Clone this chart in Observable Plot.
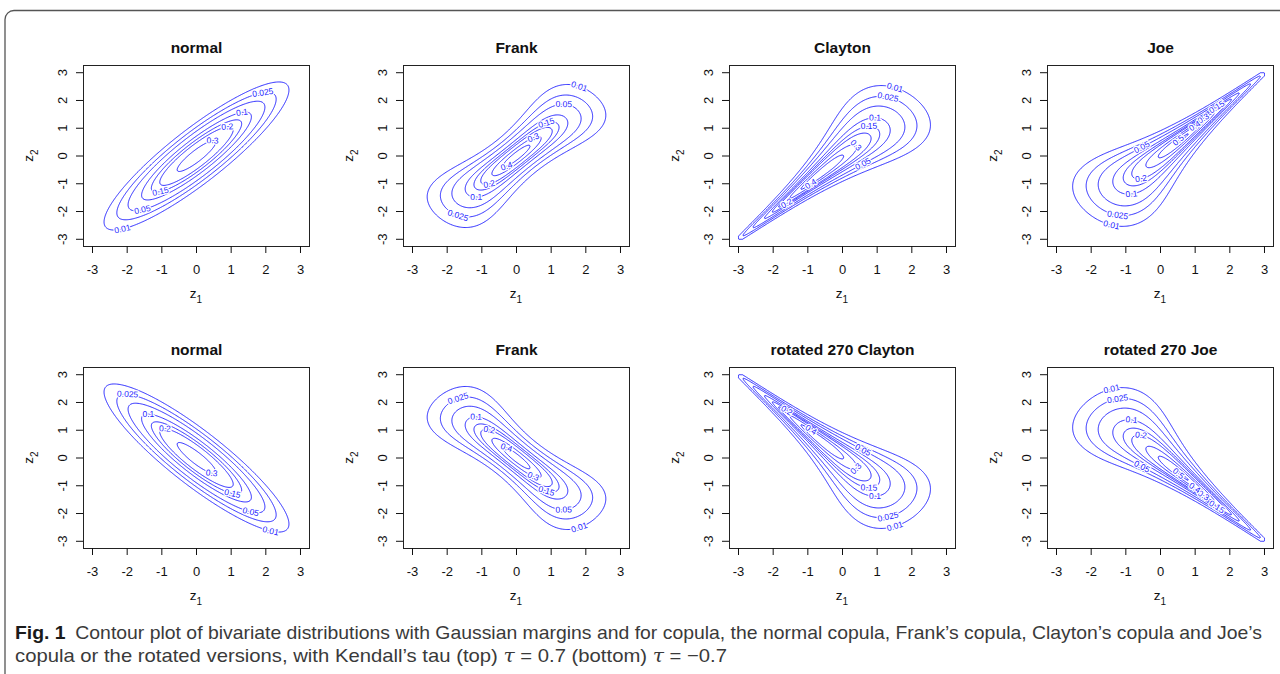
<!DOCTYPE html>
<html><head><meta charset="utf-8">
<script src="https://cdn.jsdelivr.net/npm/d3@7"></script>
<script src="https://cdn.jsdelivr.net/npm/@observablehq/plot@0.6"></script>
<style>
html,body{margin:0;padding:0;background:#fff;overflow:hidden;}
#root{position:relative;width:1280px;height:674px;font-family:"Liberation Sans",Arial,sans-serif;overflow:hidden;}
.panel{position:absolute;}
#deco{position:absolute;left:0;top:0;}
</style></head><body><div id="root"></div>
<script>
// ---------- data ----------
const titles = ["normal", "Frank", "Clayton", "Joe", "normal", "Frank", "rotated 270 Clayton", "rotated 270 Joe"];
const families = ["normal", "frank", "clayton", "joe", "normal", "frank", "clayton", "joe"];
const rotations = [0, 0, 0, 0, 0, 0, 270, 270];
const kendallTau = [0.7, 0.7, 0.7, 0.7, -0.7, -0.7, -0.7, -0.7];
// copula parameters corresponding to Kendall's tau = ±0.7
const params = [0.891, 11.41, 4.667, 5.46, -0.891, -11.41, 4.667, 5.46];
const levels = [0.01, 0.025, 0.05, 0.1, 0.15, 0.2, 0.3, 0.4, 0.5];
const ticks = [-3, -2, -1, 0, 1, 2, 3];
const tickLabels = ["-3", "-2", "-1", "0", "1", "2", "3"];
const gridRange = [-3, 3];
// contour-label placement hints: ray origin, ray directions (deg) and which ray each level uses
const labelHints = [
  {c: [0, 0], A: 50, B: 231, pat: "BABABAABA"},
  {c: [0, 0], A: 54, B: 232, pat: "ABABABABA"},
  {c: [0.3, 0.2], A: 62, B: 302, C: 225, pat: "AABAACACC"},
  {c: [-0.3, -0.3], A: 111, B: 243, C: 47, pat: "BBABCBCCC"},
  {c: [0, 0], A: 131, B: 309, pat: "BABABABAB"},
  {c: [0, 0], A: 306, B: 128, pat: "ABABABABA"},
  {c: [0.3, -0.2], A: 298, B: 58, C: 135, pat: "AABAACACC"},
  {c: [-0.3, 0.3], A: 249, B: 117, C: 313, pat: "BBABCBCCC"}
];
const captionLine1 = "Contour plot of bivariate distributions with Gaussian margins and for copula, the normal copula, Frank\u2019s copula, Clayton\u2019s copula and Joe\u2019s";
const captionLine2a = "copula or the rotated versions, with Kendall\u2019s tau (top) ";
const captionLine2b = " (bottom) ";

// ---------- layout ----------
const frameLefts = [83, 403, 729, 1047];
const frameTops = [64.5, 366.5];
const FW = 226, FH = 181, ML = 80, MT = 60, MR = 10, MB = 65;
const DOM = [-3.26, 3.26];
const kx = FW / (DOM[1] - DOM[0]), ky = FH / (DOM[1] - DOM[0]);
const LINE = "#2424ff";
const FONT = "'Liberation Sans',Arial,sans-serif";

// ---------- density ----------
function erfc(x) {
  const z = Math.abs(x), t = 1 / (1 + 0.5 * z);
  const r = t * Math.exp(-z * z - 1.26551223 + t * (1.00002368 + t * (0.37409196 + t * (0.09678418 + t * (-0.18628806 + t * (0.27886807 + t * (-1.13520398 + t * (1.48851587 + t * (-0.82215223 + t * 0.17087277)))))))));
  return x >= 0 ? r : 2 - r;
}
const Phi = z => 0.5 * erfc(-z / Math.SQRT2);
const phi = z => Math.exp(-z * z / 2) / Math.sqrt(2 * Math.PI);
function density(family, rot, par, z1, z2) {
  const u = Phi(z1), ub = Phi(-z1);
  let v = Phi(z2), vb = Phi(-z2);
  if (rot === 270) { const t = v; v = vb; vb = t; }
  let c;
  if (family === "normal") {
    const q = 1 - par * par;
    return Math.exp(-(z1 * z1 - 2 * par * z1 * z2 + z2 * z2) / (2 * q)) / (2 * Math.PI * Math.sqrt(q));
  } else if (family === "frank") {
    const t = par, e = 1 - Math.exp(-t);
    const d = e - (1 - Math.exp(-t * u)) * (1 - Math.exp(-t * v));
    c = t * e * Math.exp(-t * (u + v)) / (d * d);
  } else if (family === "clayton") {
    const t = par;
    c = (1 + t) * Math.pow(u * v, -1 - t) * Math.pow(Math.pow(u, -t) + Math.pow(v, -t) - 1, -1 / t - 2);
  } else {
    const t = par, a = Math.pow(ub, t), b = Math.pow(vb, t), A = a + b - a * b;
    c = Math.pow(A, 1 / t - 2) * Math.pow(ub, t - 1) * Math.pow(vb, t - 1) * (t - 1 + A);
  }
  return c * phi(z1) * phi(z2);
}

const root = document.getElementById("root");

// decorations: border + caption
const deco = d3.select(root).append("svg").attr("id", "deco").attr("width", 1280).attr("height", 674);
deco.append("rect").attr("x", 5).attr("y", 10.5).attr("width", 1320).attr("height", 720).attr("rx", 9)
  .attr("fill", "none").attr("stroke", "#555").attr("stroke-width", 1.3);
const capFont = "'Liberation Sans',Arial,sans-serif";
const t1 = deco.append("text").attr("x", 15).attr("y", 638.5).attr("font-family", capFont).attr("font-size", 19)
  .attr("fill", "#3a3a3a").attr("textLength", 1247).attr("lengthAdjust", "spacingAndGlyphs");
t1.append("tspan").attr("font-weight", "bold").attr("fill", "#1a1a1a").text("Fig. 1");
t1.append("tspan").text("\u2002" + captionLine1);
const t2 = deco.append("text").attr("x", 15).attr("y", 661.5).attr("font-family", capFont).attr("font-size", 19)
  .attr("fill", "#3a3a3a").attr("textLength", 712).attr("lengthAdjust", "spacingAndGlyphs");
t2.append("tspan").text(captionLine2a);
t2.append("tspan").attr("font-style", "italic").attr("font-family", "'DejaVu Serif',serif").text("\u03c4");
t2.append("tspan").text(" = " + kendallTau[0]);
t2.append("tspan").text(captionLine2b);
t2.append("tspan").attr("font-style", "italic").attr("font-family", "'DejaVu Serif',serif").text("\u03c4");
t2.append("tspan").text(" = \u2212" + Math.abs(kendallTau[4]));

// ---------- panels ----------
const n = 240;
const centers = d3.range(n).map(i => gridRange[0] + (i + 0.5) * (gridRange[1] - gridRange[0]) / n);

titles.forEach((title, p) => {
  const fam = families[p], rot = rotations[p], par = params[p];
  const values = new Float64Array(n * n);
  for (let j = 0; j < n; j++) for (let i = 0; i < n; i++) {
    const val = density(fam, rot, par, centers[i], centers[j]);
    values[j * n + i] = isFinite(val) ? val : 0;
  }
  // contour labels derived from the computed contour geometry
  const hint = labelHints[p];
  const cont = d3.contours().size([n, n]).thresholds(levels)(values);
  const labels = [];
  cont.forEach((mp, li) => {
    let best = null;
    for (const poly of mp.coordinates) for (const ring of poly) if (!best || ring.length > best.length) best = ring;
    if (!best) return;
    const pts = best.map(([gx, gy]) => [gridRange[0] + gx * 6 / n, gridRange[0] + gy * 6 / n]);
    const ang = hint[hint.pat[li]] * Math.PI / 180;
    let k = 0, bd = Infinity;
    pts.forEach(([x, y], i) => {
      const a = Math.atan2(y - hint.c[1], x - hint.c[0]);
      let d = Math.abs(a - ang) % (2 * Math.PI);
      if (d > Math.PI) d = 2 * Math.PI - d;
      if (d < bd) { bd = d; k = i; }
    });
    const L = pts.length - 1, m = Math.max(2, Math.min(5, Math.floor(L / 10)));
    const a = pts[(k + m) % L], b = pts[(k - m + L) % L];
    let r = Math.atan2(-(a[1] - b[1]) * ky, (a[0] - b[0]) * kx) * 180 / Math.PI;
    if (r > 90) r -= 180; if (r < -90) r += 180;
    labels.push({x: pts[k][0], y: pts[k][1], text: String(levels[li]), rotate: r});
  });

  const col = p % 4, row = Math.floor(p / 4);
  const svg = Plot.plot({
    width: FW + ML + MR, height: FH + MT + MB,
    marginLeft: ML, marginRight: MR, marginTop: MT, marginBottom: MB,
    x: {domain: DOM}, y: {domain: DOM},
    style: {background: "transparent", fontFamily: FONT, overflow: "visible", color: "#111"},
    marks: [
      Plot.contour(values, {value: Plot.identity, width: n, height: n, x1: gridRange[0], x2: gridRange[1], y1: gridRange[0], y2: gridRange[1],
        thresholds: levels, stroke: LINE, fill: "none", strokeWidth: 1}),
      Plot.text(labels, {x: "x", y: "y", text: "text", rotate: "rotate", fill: LINE, stroke: "white", strokeWidth: 2.5,
        fontSize: 8.5, textAnchor: "middle", lineAnchor: "middle"}),
      Plot.frame({stroke: "#222", strokeWidth: 1}),
      Plot.axisX({ticks, tickSize: 7, tickFormat: () => "", label: null}),
      Plot.axisY({ticks, tickSize: 7, tickFormat: () => "", label: null}),
      Plot.text(ticks, {x: d => d, text: (d, i) => tickLabels[i], frameAnchor: "bottom", dy: 23.5, fontSize: 13, lineAnchor: "middle", fill: "#111"}),
      Plot.text(ticks, {y: d => d, text: (d, i) => tickLabels[i], frameAnchor: "left", dx: -21, rotate: -90, fontSize: 13, lineAnchor: "middle", textAnchor: "middle", fill: "#111"}),
      Plot.text([title], {text: d => d, frameAnchor: "top", dy: -17, fontWeight: "bold", fontSize: 15.5, lineAnchor: "middle", fill: "#111"})
    ]
  });
  svg.classList.add("panel");
  svg.style.left = (frameLefts[col] - ML) + "px";
  svg.style.top = (frameTops[row] - MT) + "px";
  svg.style.maxWidth = "none";
  const s = d3.select(svg);
  // axis titles z1 / z2 with subscripts
  const zx = s.append("text").attr("x", ML + FW / 2).attr("y", MT + FH + 52).attr("text-anchor", "middle")
    .attr("font-size", 13.5).attr("fill", "#111").attr("font-family", FONT);
  zx.append("tspan").text("z");
  zx.append("tspan").attr("font-size", 10).attr("dy", 4.5).text("1");
  const zy = s.append("text").attr("transform", `translate(${ML - 50},${MT + FH / 2}) rotate(-90)`).attr("text-anchor", "middle")
    .attr("font-size", 13.5).attr("fill", "#111").attr("font-family", FONT);
  zy.append("tspan").text("z");
  zy.append("tspan").attr("font-size", 10).attr("dy", 4.5).text("2");
  root.appendChild(svg);
});
</script></body></html>
